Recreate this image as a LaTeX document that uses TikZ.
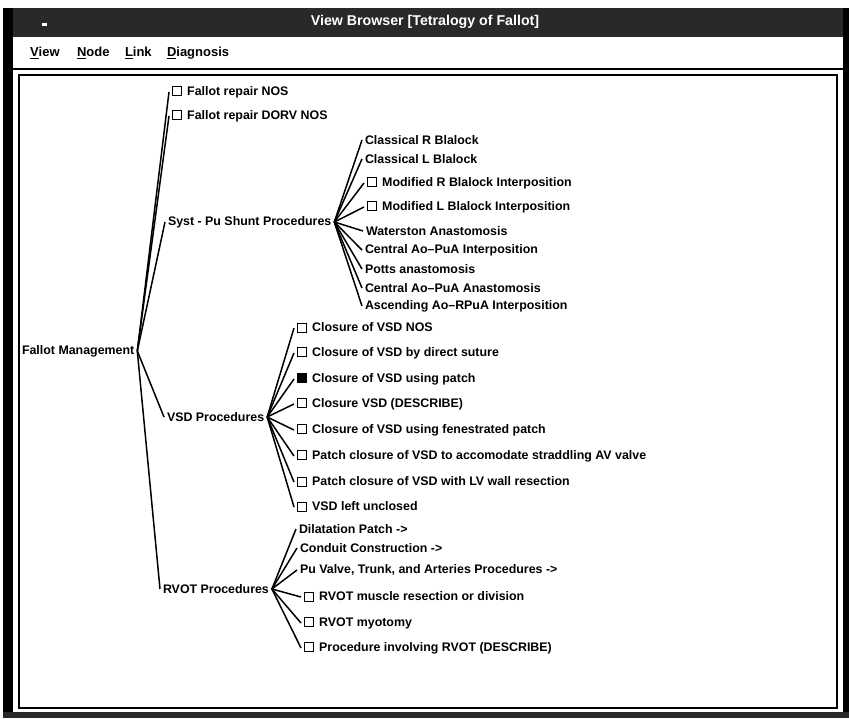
\documentclass[tikz,border=0pt]{standalone}
\usepackage{fontspec}
\setmainfont{Liberation Sans}
\definecolor{barshade}{gray}{0.16}
% open and ticked check boxes placed before the leaf labels
\newcommand\openbox{{\fboxsep=0pt\fboxrule=1.2pt\fbox{\rule{0pt}{7.8pt}\rule{7.8pt}{0pt}}}\hspace{5pt}}
\newcommand\fullbox{\rule{10.2pt}{10.2pt}\hspace{5pt}}
\begin{document}
\begin{tikzpicture}[x=1pt,y=-1pt]
\tikzset{
  ui/.style={font=\bfseries\fontsize{12.4}{14}\selectfont, inner ysep=1pt, outer sep=0pt},
  item/.style={ui, anchor=west, inner xsep=3pt},
  menuitem/.style={ui, anchor=west, inner xsep=0pt, font=\bfseries\fontsize{13}{15}\selectfont},
  link/.style={line width=1.5pt},
}
\useasboundingbox (0,0) rectangle (849,718);
% window frame
\fill[white] (0,0) rectangle (849,718);
\fill[barshade] (3,8) rectangle (849,37);
\fill[black] (3,8) rectangle (13,718);
\fill[black] (843,8) rectangle (849,718);
\fill[barshade] (3,712) rectangle (849,718);
\fill[white] (42,23) rectangle (47,26);
\node[ui, text=white, font=\bfseries\fontsize{14.2}{16}\selectfont] (title) at (425,22) {View Browser [Tetralogy of Fallot]};
% menu bar
\node[menuitem] (mview) at (30,53) {\underline{V}iew};
\node[menuitem] (mnode) at (77,53) {\underline{N}ode};
\node[menuitem] (mlink) at (125,53) {\underline{L}ink};
\node[menuitem] (mdiag) at (167,53) {\underline{D}iagnosis};
\draw[line width=1.6pt] (13,69) -- (843,69);
% browser panel
\draw[line width=1.5pt] (19,75) rectangle (837,708);

% tree: root and first level
\node[item] (root) at (19,351) {Fallot Management};
\node[item] (nos)  at (169,92)  {\openbox Fallot repair NOS};
\node[item] (dorv) at (169,116) {\openbox Fallot repair DORV NOS};
\node[item] (syst) at (165,222) {Syst - Pu Shunt Procedures};
\node[item] (vsd)  at (164,417) {VSD Procedures};
\node[item] (rvot) at (160,589) {RVOT Procedures};

% shunt procedures
\node[item] (s1) at (362,140) {Classical R Blalock};
\node[item] (s2) at (362,159) {Classical L Blalock};
\node[item] (s3) at (364,183) {\openbox Modified R Blalock Interposition};
\node[item] (s4) at (364,207) {\openbox Modified L Blalock Interposition};
\node[item] (s5) at (363,231) {Waterston Anastomosis};
\node[item] (s6) at (362,250) {Central Ao--PuA Interposition};
\node[item] (s7) at (362,269) {Potts anastomosis};
\node[item] (s8) at (362,288) {Central Ao--PuA Anastomosis};
\node[item] (s9) at (362,306) {Ascending Ao--RPuA Interposition};

% VSD procedures
\node[item] (v1) at (294,328) {\openbox Closure of VSD NOS};
\node[item] (v2) at (294,353) {\openbox Closure of VSD by direct suture};
\node[item] (v3) at (294,379) {\fullbox Closure of VSD using patch};
\node[item] (v4) at (294,404) {\openbox Closure VSD (DESCRIBE)};
\node[item] (v5) at (294,430) {\openbox Closure of VSD using fenestrated patch};
\node[item] (v6) at (294,456) {\openbox Patch closure of VSD to accomodate straddling AV valve};
\node[item] (v7) at (294,482) {\openbox Patch closure of VSD with LV wall resection};
\node[item] (v8) at (294,507) {\openbox VSD left unclosed};

% RVOT procedures
\node[item] (r1) at (296,529) {Dilatation Patch ->};
\node[item] (r2) at (297,548) {Conduit Construction ->};
\node[item] (r3) at (297,570) {Pu Valve, Trunk, and Arteries Procedures ->};
\node[item] (r4) at (301,597) {\openbox RVOT muscle resection or division};
\node[item] (r5) at (301,623) {\openbox RVOT myotomy};
\node[item] (r6) at (301,648) {\openbox Procedure involving RVOT (DESCRIBE)};

% fan connectors
\foreach \c in {nos,dorv,syst,vsd,rvot} \draw[link] (root.east) -- (\c.west);
\foreach \c in {s1,s2,s3,s4,s5,s6,s7,s8,s9} \draw[link] (syst.east) -- (\c.west);
\foreach \c in {v1,v2,v3,v4,v5,v6,v7,v8} \draw[link] (vsd.east) -- (\c.west);
\foreach \c in {r1,r2,r3,r4,r5,r6} \draw[link] (rvot.east) -- (\c.west);
\end{tikzpicture}
\end{document}
